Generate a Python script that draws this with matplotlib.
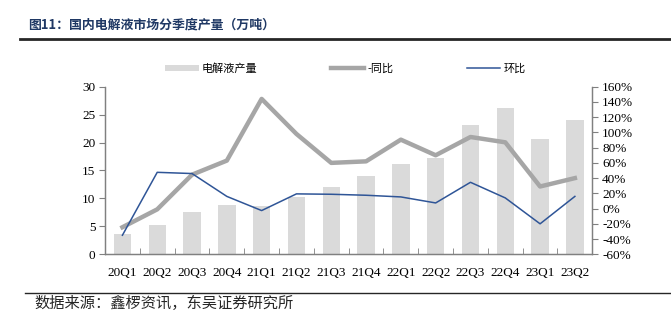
import matplotlib
matplotlib.use("Agg")
import matplotlib.pyplot as plt
from matplotlib.lines import Line2D
from matplotlib.patches import Patch

plt.rcParams['font.family'] = ['Liberation Serif', 'Noto Sans CJK SC', 'DejaVu Sans']

categories = ["20Q1", "20Q2", "20Q3", "20Q4", "21Q1", "21Q2", "21Q3", "21Q4",
              "22Q1", "22Q2", "22Q3", "22Q4", "23Q1", "23Q2"]
production = [3.6, 5.2, 7.5, 8.8, 8.6, 10.2, 12.0, 14.0, 16.1, 17.2, 23.1, 26.1, 20.7, 24.0]
yoy = [-24.5, -1, 44.5, 63, 144, 98, 60, 62, 90.5, 70, 94, 87, 29, 40]
qoq = [-35, 47.6, 46, 16, -2.6, 19.3, 18.8, 17.5, 15.3, 7.4, 34.5, 14, -20, 16]

left_ticks = [0, 5, 10, 15, 20, 25, 30]
right_ticks = list(range(-60, 161, 20))

fig = plt.figure(figsize=(6.71, 3.26), dpi=100)
ax = fig.add_axes([0.1565, 0.22, 0.7262, 0.514])
ax2 = ax.twinx()

x = list(range(len(categories)))
ax.bar(x, production, width=0.5, color="#dadada", zorder=1)
ax.set_xlim(-0.5, len(categories) - 0.5)
ax.set_ylim(0, 30)
ax.set_yticks(left_ticks)
ax.set_xticks(x)
ax.set_xticklabels(categories)
ax.set_xticks([i + 0.5 for i in x[:-1]], minor=True)
ax.tick_params(axis='x', which='major', length=0, pad=9, labelsize=9.5)
ax.tick_params(axis='x', which='minor', length=4, direction='in', color='#808080')
ax.tick_params(axis='y', length=4, direction='out', color='#808080', labelsize=9.5, pad=3)

ax2.plot(x, yoy, color="#a6a6a6", lw=3.2, zorder=3)
ax2.plot(x, qoq, color="#2f5597", lw=1.1, zorder=4)
ax2.set_ylim(-60, 160)
ax2.set_yticks(right_ticks)
ax2.set_yticklabels([f"{v}%" for v in right_ticks])
ax2.tick_params(axis='y', length=4, direction='out', color='#808080', labelsize=9.5, pad=3)

for a in (ax, ax2):
    a.spines['top'].set_visible(False)
    for s in ('left', 'right', 'bottom'):
        a.spines[s].set_color('#808080')
        a.spines[s].set_linewidth(0.9)

handles = [Patch(facecolor="#dadada", edgecolor='none'),
           Line2D([], [], color="#a6a6a6", lw=3.2),
           Line2D([], [], color="#2f5597", lw=1.1)]
labels = ["电解液产量", "-同比", "环比"]
fig.legend(handles, labels, loc='center', bbox_to_anchor=(0.515, 0.79), ncol=3,
           frameon=False, prop={'family': ['Noto Sans CJK SC'], 'size': 8},
           columnspacing=6.6, handlelength=3.0, handletextpad=0.3, handleheight=0.5)

fig.text(0.042, 0.925, "图11：国内电解液市场分季度产量（万吨）", fontsize=9.3,
         fontweight='bold', color="#1f3864", va='center',
         family=['Noto Sans CJK SC'])
fig.add_artist(Line2D([0.03, 1.0], [0.879, 0.879], color="#262626", lw=2.0))
fig.add_artist(Line2D([0.037, 1.0], [0.102, 0.102], color="#262626", lw=1.0))
fig.text(0.052, 0.07, "数据来源：鑫椤资讯，东吴证券研究所", fontsize=11,
         color="#262626", va='center', family=['Noto Sans CJK SC'])

fig.savefig("out.png", dpi=100)
